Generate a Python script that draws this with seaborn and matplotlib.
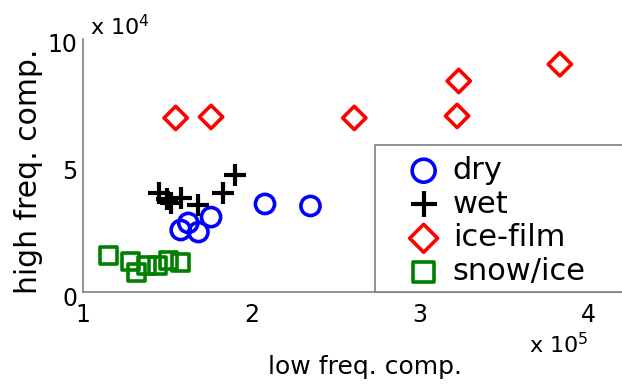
import matplotlib
matplotlib.use("Agg")
import matplotlib.pyplot as plt
import matplotlib.transforms as mtransforms
from matplotlib.patches import Rectangle
import seaborn as sns
import pandas as pd

# --- data (x in units of 1e5, y in units of 1e4) ---
dry_x = [1.58, 1.625, 1.685, 1.76, 2.08, 2.35]
dry_y = [2.45, 2.73, 2.37, 2.96, 3.48, 3.40]

wet_x = [1.45, 1.50, 1.52, 1.58, 1.68, 1.83, 1.90]
wet_y = [3.91, 3.68, 3.52, 3.72, 3.44, 3.91, 4.62]

icefilm_x = [1.55, 1.76, 2.61, 3.22, 3.23, 3.83]
icefilm_y = [6.88, 6.92, 6.88, 6.96, 8.34, 9.00]

snow_x = [1.15, 1.28, 1.32, 1.375, 1.44, 1.51, 1.58]
snow_y = [1.46, 1.19, 0.79, 1.03, 1.03, 1.26, 1.15]

labels = ["dry", "wet", "ice-film", "snow/ice"]
colors = ["#0000ff", "#000000", "#ff0000", "#008000"]
markers = ["o", "+", "D", "s"]
sizes = [190, 230, 140, 150]

x_ticks = [1, 2, 3, 4]
y_ticks = [0, 5, 10]

groups = [(dry_x, dry_y), (wet_x, wet_y), (icefilm_x, icefilm_y), (snow_x, snow_y)]
df = pd.concat(
    [pd.DataFrame({"low": gx, "high": gy, "cond": lab}) for (gx, gy), lab in zip(groups, labels)],
    ignore_index=True,
)

sns.set_style("white")
plt.rcParams["font.family"] = ["DejaVu Sans"]
plt.rcParams["text.color"] = "black"
plt.rcParams["axes.labelcolor"] = "black"
plt.rcParams["mathtext.fontset"] = "custom"
plt.rcParams["mathtext.rm"] = "DejaVu Sans"

fig = plt.figure(figsize=(6.22, 3.87), dpi=100)
ax = fig.add_axes([83 / 622, 95 / 387, 3.5 * 168.5 / 622, 253 / 387])

handles = []
for lab, col, mk, sz in zip(labels, colors, markers, sizes):
    sub = df[df["cond"] == lab]
    if mk == "+":
        sns.scatterplot(data=sub, x="low", y="high", marker=mk, s=sz, color=col,
                        linewidth=3, ax=ax, zorder=3)
    else:
        sns.scatterplot(data=sub, x="low", y="high", marker=mk, s=sz, color=col,
                        facecolor="none", edgecolor=col, linewidth=2.6, ax=ax, zorder=3)
    handles.append(ax.collections[-1])

ax.set_xlim(1, 4.5)
ax.set_ylim(0, 10)
ax.set_xticks(x_ticks)
ax.set_yticks(y_ticks)
ax.tick_params(direction="in", length=4, color="0.5", labelcolor="black", labelsize=17)
ax.tick_params(axis="x", pad=8)
ax.tick_params(axis="y", pad=4)

# y tick labels sit a little below their ticks in the original
shift = mtransforms.ScaledTranslation(0, -4 / 100, fig.dpi_scale_trans)
for t in ax.get_yticklabels():
    t.set_transform(t.get_transform() + shift)

for side in ["top", "right"]:
    ax.spines[side].set_visible(False)
for side in ["left", "bottom"]:
    ax.spines[side].set_color("0.5")
    ax.spines[side].set_linewidth(1.2)

ax.set_xlabel("low freq. comp.", fontsize=18)
ax.set_ylabel("high freq. comp.", fontsize=21.5)
ax.xaxis.set_label_coords(0.478, -0.25)
ax.yaxis.set_label_coords(-0.068, 0.478)

fig.text(90 / 622, 1 - 35 / 387, r"x 10$^{4}$", fontsize=16, va="baseline")
fig.text(529 / 622, 1 - 353 / 387, r"x 10$^{5}$", fontsize=16, va="baseline")

# legend frame runs off the right edge, like the cropped original
frame = Rectangle((0.495, 0.0), 0.6, (292 - 145) / 253, transform=ax.transAxes,
                  facecolor="white", edgecolor="0.5", linewidth=1.2, clip_on=False, zorder=4)
ax.add_patch(frame)

leg = ax.legend(handles, labels, loc="center left", bbox_to_anchor=(0.538, 0.281),
                fontsize=22, frameon=False, handlelength=1.53, handletextpad=0.19,
                labelspacing=0.157, borderpad=0, borderaxespad=0, markerscale=1.2)
leg.set_zorder(5)

fig.savefig("out.png", dpi=100)
